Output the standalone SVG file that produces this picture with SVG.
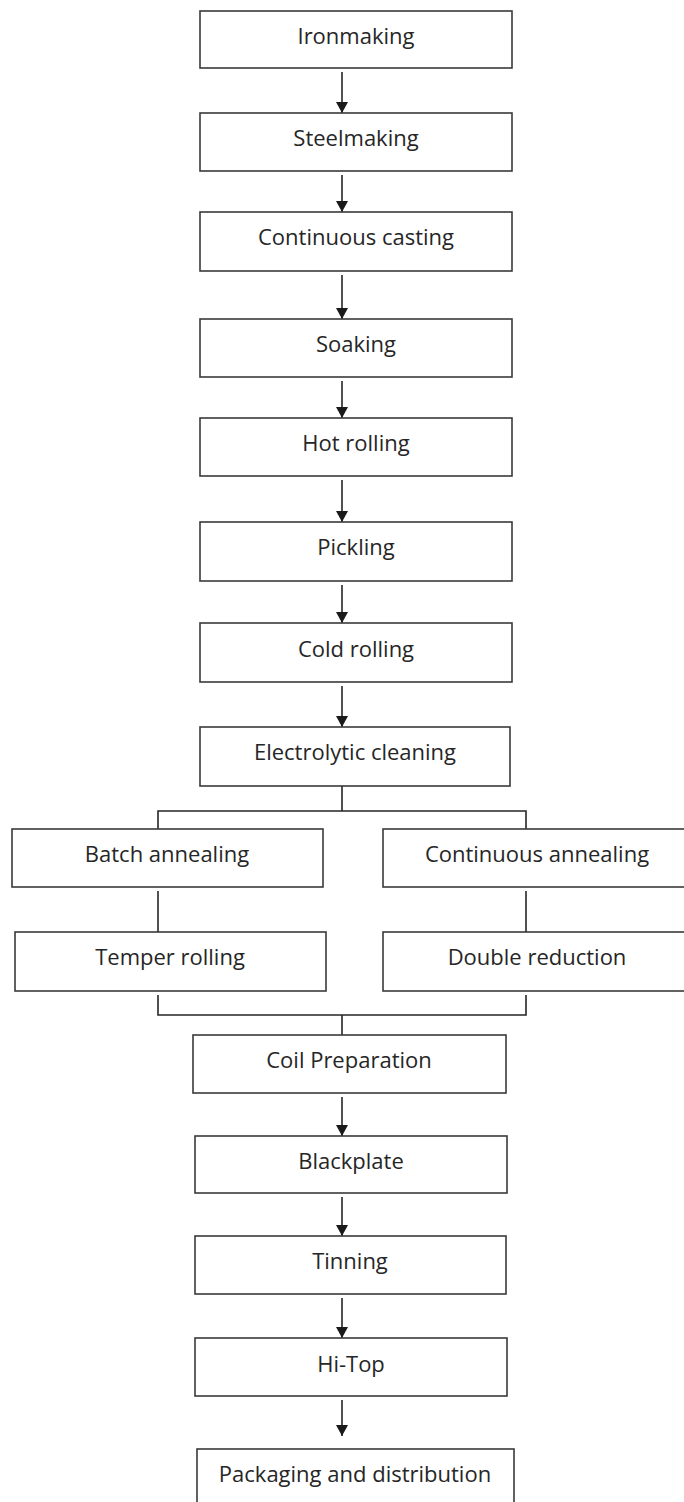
<svg xmlns="http://www.w3.org/2000/svg" width="684" height="1502" viewBox="0 0 684 1502">
<style>
.box{fill:#ffffff;stroke:#3a3a3a;stroke-width:1.6}
.lbl{font-family:"Open Sans","Liberation Sans",sans-serif;font-size:22px;fill:#262626;text-anchor:middle}
.ln{fill:none;stroke:#262626;stroke-width:1.6}
.ar{fill:none;stroke:#262626;stroke-width:1.6;marker-end:url(#ah)}
</style>
<defs>
<marker id="ah" markerUnits="userSpaceOnUse" markerWidth="11" markerHeight="12" viewBox="0 0 11 12" refX="11" refY="6" orient="auto">
<path d="M0,0 L11,6 L0,12 Z" fill="#1a1a1a"/>
</marker>
</defs>
<rect width="684" height="1502" fill="#ffffff"/>
<g id="connectors">
<line class="ar" x1="342" y1="72" x2="342" y2="113"/>
<line class="ar" x1="342" y1="175" x2="342" y2="212"/>
<line class="ar" x1="342" y1="275" x2="342" y2="319"/>
<line class="ar" x1="342" y1="381" x2="342" y2="418"/>
<line class="ar" x1="342" y1="480" x2="342" y2="522"/>
<line class="ar" x1="342" y1="585" x2="342" y2="623"/>
<line class="ar" x1="342" y1="686" x2="342" y2="727"/>
<path class="ln" d="M342,786 V811 M158,829 V811 H526 V829"/>
<line class="ln" x1="158" y1="891" x2="158" y2="932"/>
<line class="ln" x1="526" y1="891" x2="526" y2="932"/>
<path class="ln" d="M158,995 V1015 H526 V995 M342,1015 V1035"/>
<line class="ar" x1="342" y1="1097" x2="342" y2="1136"/>
<line class="ar" x1="342" y1="1197" x2="342" y2="1236"/>
<line class="ar" x1="342" y1="1298" x2="342" y2="1338"/>
<line class="ar" x1="342" y1="1400" x2="342" y2="1436"/>
</g>
<g id="ironmaking"><rect class="box" x="200" y="11" width="312" height="57"/><text class="lbl" x="356" y="44">Ironmaking</text></g>
<g id="steelmaking"><rect class="box" x="200" y="113" width="312" height="58"/><text class="lbl" x="356" y="146">Steelmaking</text></g>
<g id="continuous-casting"><rect class="box" x="200" y="212" width="312" height="59"/><text class="lbl" x="356" y="245">Continuous casting</text></g>
<g id="soaking"><rect class="box" x="200" y="319" width="312" height="58"/><text class="lbl" x="356" y="352">Soaking</text></g>
<g id="hot-rolling"><rect class="box" x="200" y="418" width="312" height="58"/><text class="lbl" x="356" y="451">Hot rolling</text></g>
<g id="pickling"><rect class="box" x="200" y="522" width="312" height="59"/><text class="lbl" x="356" y="555">Pickling</text></g>
<g id="cold-rolling"><rect class="box" x="200" y="623" width="312" height="59"/><text class="lbl" x="356" y="657">Cold rolling</text></g>
<g id="electrolytic-cleaning"><rect class="box" x="200" y="727" width="310" height="59"/><text class="lbl" x="355" y="760">Electrolytic cleaning</text></g>
<g id="batch-annealing"><rect class="box" x="12" y="829" width="311" height="58"/><text class="lbl" x="167" y="862">Batch annealing</text></g>
<g id="continuous-annealing"><rect class="box" x="383" y="829" width="310" height="58"/><text class="lbl" x="537" y="862">Continuous annealing</text></g>
<g id="temper-rolling"><rect class="box" x="15" y="932" width="311" height="59"/><text class="lbl" x="170" y="965">Temper rolling</text></g>
<g id="double-reduction"><rect class="box" x="383" y="932" width="310" height="59"/><text class="lbl" x="537" y="965">Double reduction</text></g>
<g id="coil-preparation"><rect class="box" x="193" y="1035" width="313" height="58"/><text class="lbl" x="349" y="1068">Coil Preparation</text></g>
<g id="blackplate"><rect class="box" x="195" y="1136" width="312" height="57"/><text class="lbl" x="351" y="1169">Blackplate</text></g>
<g id="tinning"><rect class="box" x="195" y="1236" width="311" height="58"/><text class="lbl" x="350" y="1269">Tinning</text></g>
<g id="hi-top"><rect class="box" x="195" y="1338" width="312" height="58"/><text class="lbl" x="351" y="1372">Hi-Top</text></g>
<g id="packaging"><rect class="box" x="197" y="1449" width="317" height="60"/><text class="lbl" x="355" y="1482">Packaging and distribution</text></g>
</svg>
